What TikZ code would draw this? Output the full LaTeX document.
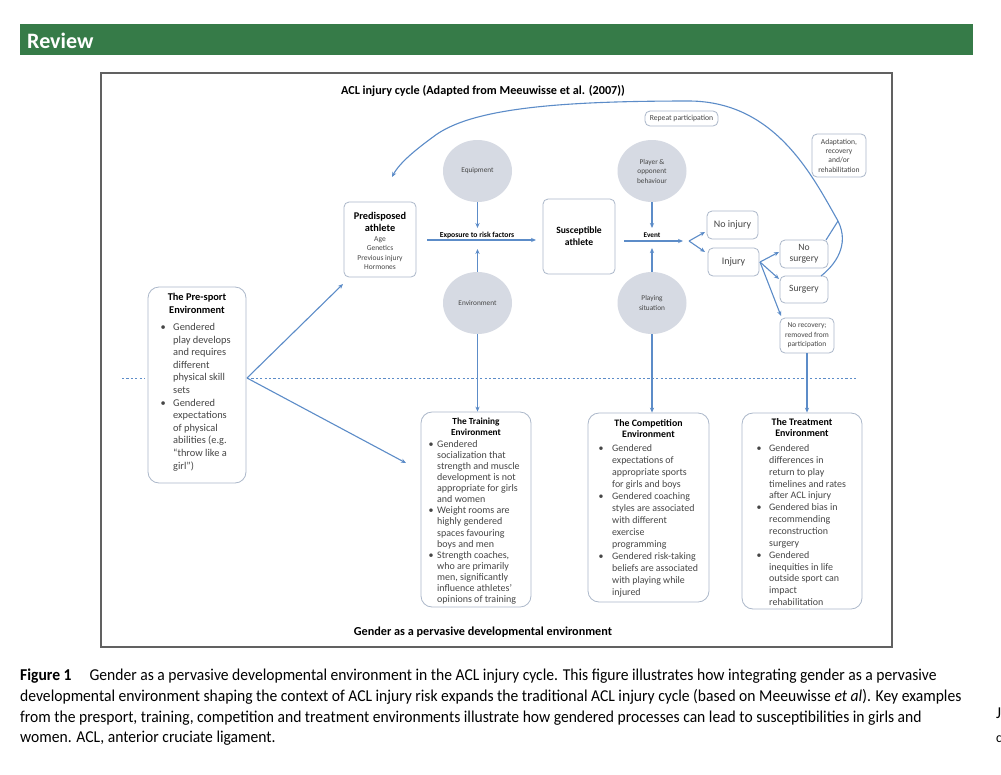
\documentclass[tikz,border=0pt]{standalone}
\usepackage{fontspec}
\setmainfont{Carlito}
\newfontfamily\capfont[FakeStretch=0.94]{Carlito}
\usetikzlibrary{arrows.meta,calc,shapes.geometric}
\definecolor{arrblue}{RGB}{92,140,200}
\definecolor{boxline}{RGB}{172,184,202}
\definecolor{circfill}{RGB}{214,218,227}
\definecolor{txtgray}{RGB}{70,70,70}
\definecolor{hdrgreen}{RGB}{54,123,72}
\newcommand\fs[2]{\fontsize{#1}{#2}\selectfont}
\newcommand\ctab[1]{\begin{tabular}[t]{@{}c@{}}#1\end{tabular}}
\newlength\bw
\newcommand\btab[2]{\setlength\bw{#1}\begin{tabular}[t]{@{}p{\bw}@{}l@{}}#2\end{tabular}}
\newcommand\bu{\textbullet}
\tikzset{
  box/.style={draw=boxline, line width=0.8pt, rounded corners=5pt, fill=white, inner sep=0pt, align=center, text=txtgray},
  envbox/.style={draw=boxline, line width=0.8pt, rounded corners=11pt, fill=white, inner sep=0pt},
  circ/.style={ellipse, fill=circfill, minimum width=69pt, minimum height=62pt, inner sep=0pt, text=txtgray, align=center, font=\fs{7.3}{9.5}},
  arr/.style={-{Stealth[length=5pt,width=4.2pt]}, draw=arrblue, line width=1.1pt},
  conn/.style={draw=arrblue, line width=1.1pt},
  ttl/.style={anchor=base, inner sep=0pt, text=black},
  blist/.style={anchor=base west, inner sep=0pt, text=txtgray},
  lbl/.style={inner sep=0pt},
  captxt/.style={anchor=base west, inner sep=0pt, font=\capfont\fs{16.6}{20}}
}
\begin{document}
\begin{tikzpicture}[x=1pt,y=-1pt]
\useasboundingbox (0,0) rectangle (1001,774);
\fill[white] (0,0) rectangle (1001,774);
% header
\fill[hdrgreen] (20,24) rectangle (973,55);
\node[anchor=base west, inner sep=0pt, text=white, font=\fs{22}{22}\bfseries] (rev) at (27,48) {Review};
% frame
\draw[line width=1.8pt, draw=black!62] (101,73) rectangle (892,647);
\node[lbl, font=\fs{12.2}{14}\bfseries] (title) at (483,91) {ACL injury cycle (Adapted from Meeuwisse et al. (2007))};
\node[lbl, font=\fs{12.2}{14}\bfseries] (gender) at (483,632) {Gender as a pervasive developmental environment};

% dotted line
\draw[arrblue, line width=0.8pt, dash pattern=on 2.2pt off 2.2pt] (122,378) -- (145,378);
\draw[arrblue, line width=0.8pt, dash pattern=on 2.2pt off 2.2pt] (247,378) -- (857,378);

% boxes
\node[box, minimum width=72pt, minimum height=75pt] (pred) at (380,239.5) {};
\node[ttl, font=\fs{10.3}{12}\bfseries] (predT) at (380,219.5) {\ctab{Predisposed\\athlete}};
\node[ttl, text=txtgray, font=\fs{7.5}{9.3}] (predS) at (380,241.5) {\ctab{Age\\Genetics\\Previous injury\\Hormones}};

\node[box, minimum width=72pt, minimum height=75pt, font=\fs{9.6}{12}\bfseries, text=black] (susc) at (579,236.5) {Susceptible\\athlete};

\node[circ] (equip) at (477.5,171) {Equipment};
\node[circ] (env) at (477.5,303) {Environment};
\node[circ] (player) at (652,171) {Player \&\\opponent\\behaviour};
\node[circ] (playsit) at (652,303) {Playing\\situation};

\node[box, minimum width=51pt, minimum height=28pt, font=\fs{10}{11}] (noinj) at (732.5,225) {No injury};
\node[box, minimum width=51pt, minimum height=28pt, font=\fs{10}{11}] (inj) at (733.5,262) {Injury};
\node[box, minimum width=48pt, minimum height=28pt, font=\fs{9.6}{11}] (nosurg) at (804,254) {No\\surgery};
\node[box, minimum width=48pt, minimum height=27pt, font=\fs{9.6}{11}] (surg) at (804,289.5) {Surgery};
\node[box, minimum width=54pt, minimum height=35pt, font=\fs{7.5}{9.5}] (norec) at (807,335.5) {No recovery;\\removed from\\participation};
\node[box, minimum width=73pt, minimum height=15pt, font=\fs{7.7}{8}] (repeat) at (681.5,118.5) {Repeat participation};
\node[box, minimum width=54pt, minimum height=43pt, font=\fs{7.6}{9.3}] (adapt) at (839,155.5) {Adaptation,\\recovery\\and/or\\rehabilitation};

% labels on arrows
\node[lbl, font=\fs{7.7}{8}\bfseries] (explbl) at (477,235) {Exposure to risk factors};
\node[lbl, font=\fs{7.2}{8}\bfseries] (evlbl) at (652,235.5) {Event};

% environment boxes
\node[envbox, minimum width=98pt, minimum height=196pt] (pres) at (197,385) {};
\node[ttl, font=\fs{10.4}{13}\bfseries] (presT) at (197,300.5) {\ctab{The Pre-sport\\Environment}};
\node[blist, font=\fs{10.4}{12.6}] (presB) at (160.5,330.5) {\btab{12.5pt}{\bu & Gendered\\ & play develops\\ & and requires\\ & different\\ & physical skill\\ & sets\\ \bu & Gendered\\ & expectations\\ & of physical\\ & abilities (e.g.\\ & ``throw like a\\ & girl'')}};

\node[envbox, minimum width=110pt, minimum height=195pt] (train) at (476,509.5) {};
\node[ttl, font=\fs{9.3}{11}\bfseries] (trainT) at (476,424.5) {\ctab{The Training\\Environment}};
\node[blist, font=\fs{10}{11.07}] (trainB) at (428.5,447.5) {\btab{8.5pt}{\bu & Gendered\\ & socialization that\\ & strength and muscle\\ & development is not\\ & appropriate for girls\\ & and women\\ \bu & Weight rooms are\\ & highly gendered\\ & spaces favouring\\ & boys and men\\ \bu & Strength coaches,\\ & who are primarily\\ & men, significantly\\ & influence athletes'\\ & opinions of training}};

\node[envbox, minimum width=121pt, minimum height=189pt] (comp) at (648.5,507.5) {};
\node[ttl, font=\fs{9.85}{10.5}\bfseries] (compT) at (648.5,426.5) {\ctab{The Competition\\Environment}};
\node[blist, font=\fs{9.9}{12}] (compB) at (598.5,451.5) {\btab{13.5pt}{\bu & Gendered\\ & expectations of\\ & appropriate sports\\ & for girls and boys\\ \bu & Gendered coaching\\ & styles are associated\\ & with different\\ & exercise\\ & programming\\ \bu & Gendered risk-taking\\ & beliefs are associated\\ & with playing while\\ & injured}};

\node[envbox, minimum width=120pt, minimum height=196pt] (treat) at (802,511) {};
\node[ttl, font=\fs{10}{11}\bfseries] (treatT) at (802,425.5) {\ctab{The Treatment\\Environment}};
\node[blist, font=\fs{9.95}{11.85}] (treatB) at (756.5,451.5) {\btab{12.5pt}{\bu & Gendered\\ & differences in\\ & return to play\\ & timelines and rates\\ & after ACL injury\\ \bu & Gendered bias in\\ & recommending\\ & reconstruction\\ & surgery\\ \bu & Gendered\\ & inequities in life\\ & outside sport can\\ & impact\\ & rehabilitation}};

% coordinates
\coordinate (psF) at (247,378);
\coordinate (psUp) at (343,284);
\coordinate (psDn) at (406,463);
\coordinate (ex1) at (427,240);
\coordinate (ex2) at (536,240);
\coordinate (eqA) at (477.5,228);
\coordinate (envA) at (477.5,249);
\coordinate (ev1) at (624,241);
\coordinate (ev2) at (683,241);
\coordinate (plA) at (652,228);
\coordinate (psA) at (652,248);
\coordinate (fk) at (689,241);
\coordinate (fkU) at (705,232);
\coordinate (fkD) at (705,252);
\coordinate (ij) at (760,262);
\coordinate (ijA) at (779,252);
\coordinate (ijB) at (779,279);
\coordinate (ijC) at (781,316);
\coordinate (sgTop) at (821,276);
\coordinate (nsTop) at (826,240);
\coordinate (mrg) at (838,221);
\coordinate (cvEnd) at (392,177);

% connectors
\draw[arr] (psF) -- (psUp);
\draw[arr] (psF) -- (psDn);
\draw[arr] (ex1) -- (ex2);
\draw[arr] (equip.south) -- (eqA);
\draw[arr] (env.north) -- (envA);
\draw[arr] (ev1) -- (ev2);
\draw[arr] (player.south) -- (plA);
\draw[arr] (playsit.north) -- (psA);
\draw[arr] (fk) -- (fkU);
\draw[arr] (fk) -- (fkD);
\draw[arr] (ij) -- (ijA);
\draw[arr] (ij) -- (ijB);
\draw[arr] (ij) -- (ijC);
\draw[arr] (env.south) -- (env.south |- train.north);
\draw[arr] (playsit.south) -- (playsit.south |- comp.north);
\draw[arr] (norec.south) -- (norec.south |- treat.north);
\draw[conn] (nsTop) -- (mrg);
\draw[arr] (sgTop) .. controls (835,265) and (850,245) .. (mrg)
  .. controls (812,175) and (775,102) .. (690,101)
  .. controls (560,101) and (470,108) .. (433,137)
  .. controls (418,148) and (400,162) .. (cvEnd);

% caption
\node[captxt] (cap1) at (20,680) {\textbf{Figure 1}\hspace{18pt}Gender as a pervasive developmental environment in the ACL injury cycle. This figure illustrates how integrating gender as a pervasive};
\node[captxt] (cap2) at (20,701) {developmental environment shaping the context of ACL injury risk expands the traditional ACL injury cycle (based on Meeuwisse \textit{et al}). Key examples};
\node[captxt] (cap3) at (20,722) {from the presport, training, competition and treatment environments illustrate how gendered processes can lead to susceptibilities in girls and};
\node[captxt] (cap4) at (20,742) {women. ACL, anterior cruciate ligament.};
\node[captxt] (frag1) at (996,718) {J};
\node[captxt, font=\capfont\fs{14}{20}] (frag2) at (996,742) {c};
\end{tikzpicture}
\end{document}
